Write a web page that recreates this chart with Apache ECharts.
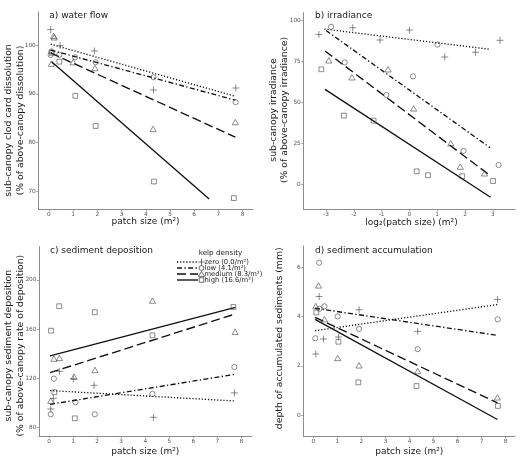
<!DOCTYPE html>
<html>
<head>
<meta charset="utf-8">
<script src="https://cdn.jsdelivr.net/npm/echarts@6/dist/echarts.min.js"></script>
<style>
html,body{margin:0;padding:0;background:#fff;}
#chart{width:520px;height:465px;}
</style>
</head>
<body>
<div id="chart"></div>
<script>
// ---------- tick labels ----------
const patchTicks = [0, 1, 2, 3, 4, 5, 6, 7, 8];
const logTicks = [-3, -2, -1, 0, 1, 2, 3];
const yTicksA = [70, 80, 90, 100];
const yTicksB = [0, 25, 50, 75, 100];
const yTicksC = [80, 120, 160, 200];
const yTicksD = [0, 2, 4, 6];

// ---------- categories ----------
const densities = ['zero', 'low', 'medium', 'high'];
const densityLabels = ['zero (0.0/m\u00B2)', 'low (4.1/m\u00B2)', 'medium (8.3/m\u00B2)', 'high (16.6/m\u00B2)'];
const panelTitles = ['a) water flow', 'b) irradiance', 'c) sediment deposition', 'd) sediment accumulation'];

// ---------- a) water flow ----------
const aZeroPts = [[0.07, 103.2], [0.46, 99.9], [1.88, 98.8], [4.32, 90.8], [7.72, 91.2]];
const aLowPts = [[0.07, 98.0], [0.1, 98.7], [0.43, 98.0], [1.08, 97.5], [1.93, 96.5], [4.32, 93.4], [7.71, 88.3]];
const aMediumPts = [[0.19, 101.9], [0.22, 101.6], [0.1, 96.2], [1.0, 96.5], [1.9, 95.3], [4.3, 82.8], [7.7, 84.2]];
const aHighPts = [[0.12, 98.4], [0.43, 96.6], [1.09, 89.6], [1.93, 83.4], [4.34, 72.0], [7.64, 68.6]];
const aZeroFit = [[0.07, 100.2], [7.7, 89.5]];
const aLowFit = [[0.07, 99.0], [7.7, 88.7]];
const aMediumFit = [[0.07, 98.4], [7.7, 81.1]];
const aHighFit = [[0.11, 96.6], [6.62, 68.4]];

// ---------- b) irradiance ----------
const bZeroPts = [[-3.26, 91.6], [-2.04, 95.7], [-1.06, 88.2], [0, 94.3], [1.27, 77.8], [2.38, 80.7], [3.26, 88.0]];
const bLowPts = [[-2.82, 96.3], [-2.33, 74.5], [-0.83, 54.6], [0.13, 66.0], [1.01, 85.4], [1.95, 20.4], [3.21, 11.8]];
const bMediumPts = [[-2.9, 75.8], [-2.07, 65.4], [-0.77, 70.3], [0.15, 46.4], [1.49, 25.1], [1.83, 10.8], [2.7, 6.7]];
const bHighPts = [[-3.17, 70.3], [-2.36, 42.0], [-1.29, 38.9], [0.26, 7.9], [0.67, 5.5], [1.9, 4.9], [3.01, 2.0]];
const bZeroFit = [[-3.06, 94.9], [2.92, 82.5]];
const bLowFit = [[-3.0, 94.0], [2.9, 22.4]];
const bMediumFit = [[-3.04, 81.5], [2.93, 5.0]];
const bHighFit = [[-3.04, 58.0], [2.92, -7.9]];

// ---------- c) sediment deposition ----------
const cZeroPts = [[0.07, 94.9], [0.18, 103.6], [0.43, 125.6], [1.01, 119.4], [1.87, 114.2], [4.34, 88.1], [7.71, 108.0]];
const cLowPts = [[0.07, 90.6], [0.2, 119.6], [1.1, 100.4], [1.9, 90.6], [4.3, 107.2], [7.71, 129.1]];
const cMediumPts = [[0.07, 101.7], [0.2, 135.9], [0.43, 136.5], [1.04, 121.3], [1.91, 126.7], [4.3, 183.2], [7.74, 157.7]];
const cHighPts = [[0.08, 158.7], [0.42, 178.6], [0.22, 108.5], [1.07, 87.3], [1.9, 173.7], [4.3, 154.9], [7.67, 178.0]];
const cZeroFit = [[0.04, 109.9], [7.75, 101.4]];
const cLowFit = [[0.04, 98.7], [7.75, 123.2]];
const cMediumFit = [[0.04, 124.5], [7.75, 172.3]];
const cHighFit = [[0.04, 138.1], [7.75, 177.7]];

// ---------- d) sediment accumulation ----------
const dZeroPts = [[0.1, 2.48], [0.24, 4.82], [0.42, 3.09], [1.04, 3.17], [1.9, 4.28], [4.34, 3.4], [7.66, 4.7]];
const dLowPts = [[0.24, 6.19], [0.08, 3.12], [0.25, 4.32], [0.46, 4.42], [1.01, 4.01], [1.9, 3.5], [4.34, 2.68], [7.67, 3.89]];
const dMediumPts = [[0.21, 5.27], [0.1, 4.43], [0.46, 3.9], [1.01, 2.32], [1.9, 2.02], [4.34, 1.79], [7.66, 0.72]];
const dHighPts = [[0.12, 4.17], [1.04, 2.98], [1.87, 1.33], [4.29, 1.18], [7.68, 0.37]];
const dZeroFit = [[0.07, 3.43], [7.66, 4.49]];
const dLowFit = [[0.07, 4.34], [7.66, 3.24]];
const dMediumFit = [[0.07, 3.97], [7.66, 0.5]];
const dHighFit = [[0.07, 3.89], [7.66, -0.18]];

// ---------- build ----------
const FONT = 'DejaVu Sans';
const INK = '#1a1a1a';
const AXIS = '#8c8c8c';

const panels = [
  { pts: [aZeroPts, aLowPts, aMediumPts, aHighPts], fits: [aZeroFit, aLowFit, aMediumFit, aHighFit],
    grid: { left: 38.3, top: 12, width: 214.7, height: 197.3 }, x: [-0.44, 8.43, patchTicks], y: [66.3, 106.8, yTicksA] },
  { pts: [bZeroPts, bLowPts, bMediumPts, bHighPts], fits: [bZeroFit, bLowFit, bMediumFit, bHighFit],
    grid: { left: 303.3, top: 12.7, width: 211.7, height: 196.6 }, x: [-3.82, 3.8, logTicks], y: [-15.3, 104.9, yTicksB] },
  { pts: [cZeroPts, cLowPts, cMediumPts, cHighPts], fits: [cZeroFit, cLowFit, cMediumFit, cHighFit],
    grid: { left: 39, top: 246.7, width: 212.7, height: 189.3 }, x: [-0.42, 8.43, patchTicks], y: [72.9, 227.1, yTicksC] },
  { pts: [dZeroPts, dLowPts, dMediumPts, dHighPts], fits: [dZeroFit, dLowFit, dMediumFit, dHighFit],
    grid: { left: 303.3, top: 246, width: 211.7, height: 190 }, x: [-0.42, 8.39, patchTicks], y: [-0.85, 6.87, yTicksD] }
];

const symbolFor = {
  zero: 'path://M0,5L10,5M5,0L5,10',
  low: 'circle',
  medium: 'triangle',
  high: 'rect'
};
const sizeFor = { zero: 7, low: 5.2, medium: [6.2, 5.4], high: 4.8 };
const dashFor = {
  zero: [1.2, 1.9],
  low: [5, 2.4, 1.3, 2.4],
  medium: [9, 4],
  high: 'solid'
};

function axisCommon(ticks) {
  return {
    type: 'value',
    axisLine: { show: true, onZero: false, lineStyle: { color: AXIS, width: 1 } },
    axisTick: { show: true, length: 2, lineStyle: { color: AXIS, width: 0.8 }, customValues: ticks },
    axisLabel: { show: true, fontSize: 5.8, fontFamily: FONT, color: '#555', margin: 2.5, customValues: ticks },
    splitLine: { show: false }
  };
}

const grids = [], xAxes = [], yAxes = [], series = [];
panels.forEach((p, i) => {
  grids.push(Object.assign({ containLabel: false }, p.grid));
  xAxes.push(Object.assign(axisCommon(p.x[2]), { gridIndex: i, min: p.x[0], max: p.x[1] }));
  yAxes.push(Object.assign(axisCommon(p.y[2]), { gridIndex: i, min: p.y[0], max: p.y[1] }));
  densities.forEach((d, k) => {
    series.push({
      type: 'line', name: d, xAxisIndex: i, yAxisIndex: i, data: p.fits[k],
      symbol: 'none', showSymbol: false, silent: true, z: 2,
      lineStyle: { color: '#111', width: 1.35, type: dashFor[d] }
    });
    series.push({
      type: 'scatter', name: d, xAxisIndex: i, yAxisIndex: i, data: p.pts[k],
      symbol: symbolFor[d], symbolSize: sizeFor[d], silent: true, z: 3,
      itemStyle: { color: 'rgba(0,0,0,0)', borderColor: '#333', borderWidth: 0.7 }
    });
  });
});

// ---------- texts ----------
function txt(t, x, y, size, opts) {
  return Object.assign({
    type: 'text', x: x, y: y, silent: true, z: 10,
    style: Object.assign({ text: t, fontSize: size, fontFamily: FONT, fill: INK, align: 'center', verticalAlign: 'middle' }, (opts && opts.style) || {})
  }, (opts && opts.el) || {});
}

const graphics = [];
const titlePos = [[49.3, 16], [315, 15.7], [50, 251], [315, 251]];
panelTitles.forEach((t, i) => graphics.push(txt(t, titlePos[i][0], titlePos[i][1], 9, { style: { align: 'left' } })));

graphics.push(txt('patch size (m\u00B2)', 145.6, 221.7, 9));
graphics.push(txt('log\u2082(patch size) (m\u00B2)', 411.5, 222.3, 9));
graphics.push(txt('patch size (m\u00B2)', 145.3, 451.7, 9));
graphics.push(txt('patch size (m\u00B2)', 409.3, 451.7, 9));

const rot = Math.PI / 2;
graphics.push(txt('sub-canopy clod card dissolution\n(% of above-canopy dissolution)', 14.5, 120.5, 9.3, { el: { rotation: rot }, style: { lineHeight: 12.3 } }));
graphics.push(txt('sub-canopy irradiance\n(% of above-canopy irradiance)', 278.7, 110, 9.3, { el: { rotation: rot }, style: { lineHeight: 10.9 } }));
graphics.push(txt('sub-canopy sediment deposition\n(% of above-canopy rate of deposition)', 14.8, 345.7, 9.3, { el: { rotation: rot }, style: { lineHeight: 11.7 } }));
graphics.push(txt('depth of accumulated sediments (mm)', 280, 338.3, 9.3, { el: { rotation: rot } }));

// ---------- legend (panel c) ----------
graphics.push(txt('kelp density', 220.5, 253, 7.2));
const rowY = [262, 268, 274, 280];
const sx = 201.5;
densities.forEach((d, k) => {
  const y = rowY[k];
  graphics.push({
    type: 'line', silent: true, z: 10,
    shape: { x1: 177, y1: y, x2: 198, y2: y },
    style: { stroke: '#111', lineWidth: 1.35, lineDash: dashFor[d] === 'solid' ? null : dashFor[d] }
  });
  const st = { fill: 'none', stroke: '#333', lineWidth: 0.7 };
  if (d === 'zero') {
    graphics.push({ type: 'polyline', silent: true, z: 10, shape: { points: [[sx - 3.3, y], [sx + 3.3, y]] }, style: st });
    graphics.push({ type: 'polyline', silent: true, z: 10, shape: { points: [[sx, y - 3.3], [sx, y + 3.3]] }, style: st });
  } else if (d === 'low') {
    graphics.push({ type: 'circle', silent: true, z: 10, shape: { cx: sx, cy: y, r: 2.4 }, style: st });
  } else if (d === 'medium') {
    graphics.push({ type: 'polygon', silent: true, z: 10, shape: { points: [[sx, y - 2.6], [sx - 3, y + 2.4], [sx + 3, y + 2.4]] }, style: st });
  } else {
    graphics.push({ type: 'rect', silent: true, z: 10, shape: { x: sx - 2.3, y: y - 2.3, width: 4.6, height: 4.6 }, style: st });
  }
  graphics.push(txt(densityLabels[k], 204.5, y, 6.8, { style: { align: 'left' } }));
});

const chart = echarts.init(document.getElementById('chart'), null, { renderer: 'canvas' });
chart.setOption({
  animation: false,
  backgroundColor: '#ffffff',
  textStyle: { fontFamily: FONT },
  grid: grids,
  xAxis: xAxes,
  yAxis: yAxes,
  series: series,
  graphic: graphics
});
</script>
</body>
</html>
